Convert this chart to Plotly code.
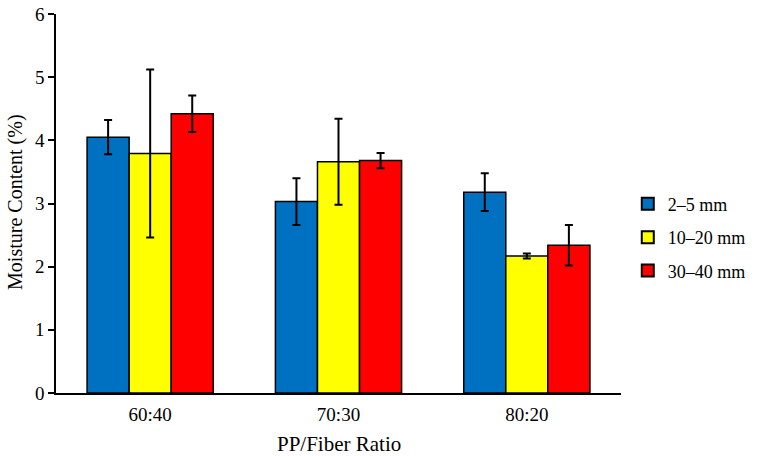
import plotly.graph_objects as go

categories = ["60:40", "70:30", "80:20"]
series_names = ["2–5 mm", "10–20 mm", "30–40 mm"]
values_2_5 = [4.05, 3.03, 3.18]
values_10_20 = [3.79, 3.66, 2.17]
values_30_40 = [4.42, 3.68, 2.34]
err_2_5 = [0.27, 0.37, 0.30]
err_10_20 = [1.33, 0.68, 0.04]
err_30_40 = [0.29, 0.12, 0.32]
colors = ["#0070C0", "#FFFF00", "#FF0000"]

fig = go.Figure()
for i, (name, vals, errs, col) in enumerate(zip(series_names, [values_2_5, values_10_20, values_30_40],
                                  [err_2_5, err_10_20, err_30_40], colors)):
    fig.add_trace(go.Bar(
        x=categories, y=vals, name=name, legendgroup=f"g{i}",
        marker=dict(color=col, line=dict(color="black", width=1.5)),
        error_y=dict(type="data", array=errs, visible=True, color="black", thickness=2, width=4),
    ))

font = "Liberation Serif, Times New Roman, serif"
fig.update_layout(
    width=763, height=456,
    margin=dict(l=56, r=130, t=14, b=63),
    paper_bgcolor="white", plot_bgcolor="white",
    barmode="group", bargap=0.33, bargroupgap=0,
    font=dict(family=font, size=19, color="black"),
    legend=dict(x=1.012, y=0.41, xanchor="left", yanchor="middle",
                font=dict(family=font, size=18), tracegroupgap=7, itemsizing="constant",
                bgcolor="rgba(0,0,0,0)"),
    showlegend=True,
    annotations=[
        dict(text="PP/Fiber Ratio", xref="paper", yref="paper", x=0.5, y=-0.1346,
             xanchor="center", yanchor="middle", showarrow=False, font=dict(size=21)),
        dict(text="Moisture Content (%)", xref="paper", yref="paper", x=-0.072, y=0.505,
             xanchor="center", yanchor="middle", showarrow=False, textangle=-90,
             font=dict(size=20)),
    ],
)
fig.update_xaxes(
    showline=True, linecolor="black", linewidth=1.5,
    ticks="outside", ticklen=3, tickcolor="rgba(0,0,0,0)",
    tickfont=dict(size=19), automargin=False,
)
fig.update_yaxes(
    range=[0, 6], dtick=1, showline=True, linecolor="black", linewidth=1.5,
    ticks="outside", ticklen=6, tickcolor="black", tickwidth=1.5, showgrid=False,
    zeroline=False, tickfont=dict(size=19), automargin=False,
)
fig.write_html("out.html")
